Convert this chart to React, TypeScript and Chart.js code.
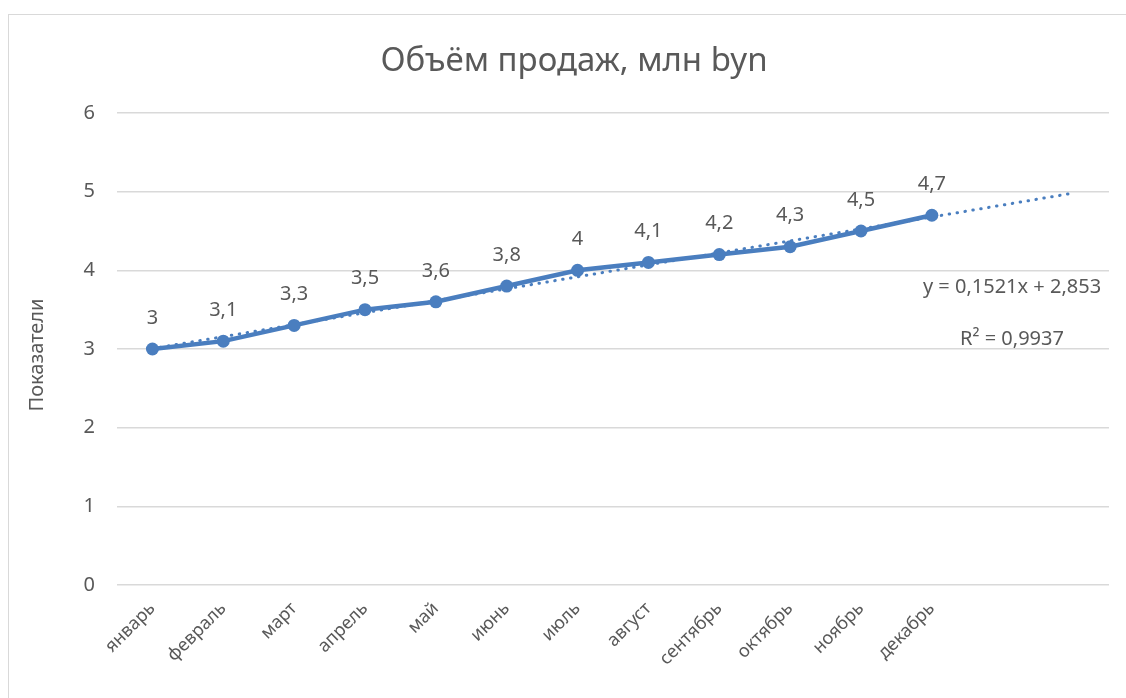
import React, { useEffect, useRef } from "react";
import { Chart, registerables } from "chart.js";

Chart.register(...registerables);

const TITLE = "Объём продаж, млн byn";
const Y_TITLE = "Показатели";
const MONTHS = ["январь", "февраль", "март", "апрель", "май", "июнь", "июль", "август", "сентябрь", "октябрь", "ноябрь", "декабрь"];
const FORECAST_SLOTS = ["", ""];
const SALES = [3, 3.1, 3.3, 3.5, 3.6, 3.8, 4, 4.1, 4.2, 4.3, 4.5, 4.7];
const SALES_LABELS = ["3", "3,1", "3,3", "3,5", "3,6", "3,8", "4", "4,1", "4,2", "4,3", "4,5", "4,7"];
const TREND_SLOPE = 0.1521;
const TREND_INTERCEPT = 2.853;
const TREND_EQ = "y = 0,1521x + 2,853";
const TREND_R2 = "R² = 0,9937";
const Y_TICKS = [0, 1, 2, 3, 4, 5, 6];

const FONT = "'Noto Sans', 'DejaVu Sans', sans-serif";
const TEXT = "#595959";
const BLUE = "#4a7ebf";
const GRID = "#d9d9d9";

export default function App() {
  const ref = useRef<HTMLCanvasElement | null>(null);

  useEffect(() => {
    document.documentElement.style.overflow = "hidden";
    document.body.style.overflow = "hidden";
    if (!ref.current) return;
    const labels = [...MONTHS, ...FORECAST_SLOTS];
    const n = labels.length;
    const trend: (number | null)[] = labels.map(() => null);
    trend[0] = TREND_INTERCEPT + TREND_SLOPE * 1;
    trend[n - 1] = TREND_INTERCEPT + TREND_SLOPE * n;

    const textPlugin = {
      id: "texts",
      afterDatasetsDraw(chart: any) {
        const ctx = chart.ctx;
        const area = chart.chartArea;
        ctx.save();
        ctx.fillStyle = TEXT;
        const meta = chart.getDatasetMeta(0);
        ctx.font = `20px ${FONT}`;
        ctx.textAlign = "center";
        ctx.textBaseline = "middle";
        meta.data.forEach((p: any, i: number) => {
          ctx.fillText(SALES_LABELS[i], p.x, p.y - 31);
        });
        ctx.font = `33px ${FONT}`;
        ctx.fillText(TITLE, 566, 54);
        const ys = chart.scales.y;
        ctx.font = `20px ${FONT}`;
        ctx.fillText(TREND_EQ, 1004, ys.getPixelForValue(3.78));
        ctx.fillText(TREND_R2, 1004, ys.getPixelForValue(3.12));
        ctx.font = `20px ${FONT}`;
        ctx.translate(29, (area.top + area.bottom) / 2 + 6);
        ctx.rotate(-Math.PI / 2);
        ctx.fillText(Y_TITLE, 0, 0);
        ctx.restore();
      },
    };

    const chart = new Chart(ref.current, {
      type: "line",
      data: {
        labels,
        datasets: [
          {
            data: SALES,
            borderColor: BLUE,
            backgroundColor: BLUE,
            borderWidth: 4.5,
            pointRadius: 6.5,
            pointBorderWidth: 0,
            pointBackgroundColor: BLUE,
            fill: false,
            tension: 0,
          },
          {
            data: trend,
            borderColor: BLUE,
            borderWidth: 3,
            borderDash: [0.5, 7.5],
            borderCapStyle: "round",
            pointRadius: 0,
            spanGaps: true,
            fill: false,
          },
        ],
      },
      options: {
        animation: false,
        responsive: false,
        layout: { padding: { left: 0, right: 17, top: 105, bottom: 0 } },
        plugins: { legend: { display: false }, title: { display: false }, tooltip: { enabled: false } },
        scales: {
          x: {
            offset: true,
            grid: { display: false, drawTicks: false },
            border: { display: false },
            afterFit: (s: any) => { s.height = 113; },
            ticks: {
              autoSkip: false,
              minRotation: 45,
              maxRotation: 45,
              color: TEXT,
              padding: 13,
              font: { family: FONT, size: 18 },
            },
          },
          y: {
            min: 0,
            max: 6,
            afterFit: (s: any) => { s.width = 109; },
            afterBuildTicks: (s: any) => { s.ticks = Y_TICKS.map((v) => ({ value: v })); },
            grid: { color: GRID, lineWidth: 1.5, drawTicks: false },
            border: { display: false },
            ticks: {
              color: TEXT,
              padding: 22,
              font: { family: FONT, size: 20 },
            },
          },
        },
      },
      plugins: [textPlugin],
    } as any);
    return () => chart.destroy();
  }, []);

  return (
    <div style={{ position: "fixed", left: 0, top: 0, width: 1126, height: 698, overflow: "hidden" }}>
      <div
        style={{
          position: "absolute",
          left: 8,
          top: 14,
          width: 1400,
          height: 1000,
          borderLeft: "1.5px solid #d9d9d9",
          borderTop: "1.5px solid #d9d9d9",
          boxSizing: "border-box",
        }}
      />
      <canvas ref={ref} width={1118} height={690} style={{ position: "absolute", left: 8, top: 8 }} />
    </div>
  );
}
